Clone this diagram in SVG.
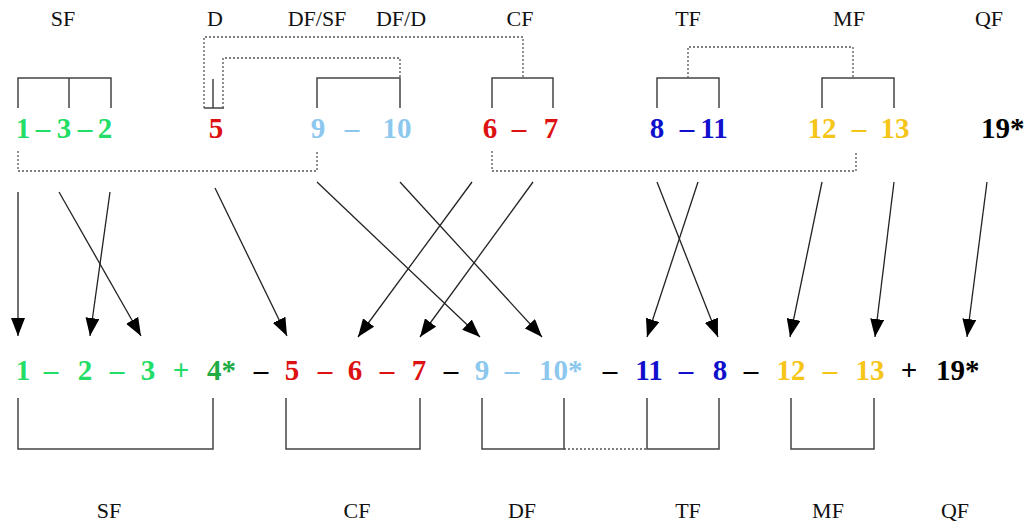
<svg xmlns="http://www.w3.org/2000/svg" width="1026" height="523" viewBox="0 0 1026 523">
<defs>
<style>
.lbl{font-family:"Liberation Serif","Times New Roman",serif;font-size:22px;fill:#111;text-anchor:middle}
.n{font-family:"Liberation Serif","Times New Roman",serif;font-size:29px;font-weight:bold;text-anchor:middle}
.s{text-anchor:start}
.g{fill:#22DD66}.g2{fill:#22AA44}.r{fill:#DD1111}.lb{fill:#8CC8EE}.b{fill:#1010CC}.y{fill:#F5C518}.k{fill:#000}
.br{fill:none;stroke:#444;stroke-width:1.5}
.dot{fill:none;stroke:#555;stroke-width:1.3;stroke-dasharray:2,2}
.arr{stroke:#222;stroke-width:1.3;fill:none;marker-end:url(#ah)}
</style>
<marker id="ah" markerUnits="userSpaceOnUse" markerWidth="18" markerHeight="14" refX="18" refY="7" orient="auto">
<path d="M0,0 L18,7 L0,14 z" fill="#000"/>
</marker>
</defs>
<rect width="1026" height="523" fill="#fff"/>

<g id="top-labels">
<text class="lbl" x="63" y="26">SF</text>
<text class="lbl" x="215" y="26">D</text>
<text class="lbl" x="317" y="26">DF/SF</text>
<text class="lbl" x="401" y="26">DF/D</text>
<text class="lbl" x="520" y="26">CF</text>
<text class="lbl" x="688" y="26">TF</text>
<text class="lbl" x="849" y="26">MF</text>
<text class="lbl" x="989" y="26">QF</text>
</g>

<g id="top-sf">
<path class="br" d="M18,108 V78 H111 V108 M69,78 V108"/>
<text class="n g" x="23" y="138">1</text>
<text class="n g" x="43" y="138">–</text>
<text class="n g" x="64" y="138">3</text>
<text class="n g" x="85" y="138">–</text>
<text class="n g" x="105" y="138">2</text>
</g>
<g id="top-d">
<path class="br" d="M213,79 V108 M204,108 H224"/>
<text class="n r" x="216" y="138">5</text>
</g>
<g id="top-df">
<path class="br" d="M317,108 V78 H400 V108"/>
<text class="n lb" x="318" y="138">9</text>
<text class="n lb" x="352" y="138">–</text>
<text class="n lb" x="397" y="138">10</text>
</g>
<g id="top-cf">
<path class="br" d="M492,108 V78 H553 V108"/>
<text class="n r" x="490" y="138">6</text>
<text class="n r" x="519" y="138">–</text>
<text class="n r" x="551" y="138">7</text>
</g>
<g id="top-tf">
<path class="br" d="M657,108 V78 H719 V108"/>
<text class="n b" x="657" y="138">8</text>
<text class="n b" x="687" y="138">–</text>
<text class="n b" x="714" y="138">11</text>
</g>
<g id="top-mf">
<path class="br" d="M822,108 V78 H894 V108"/>
<text class="n y" x="822" y="138">12</text>
<text class="n y" x="859" y="138">–</text>
<text class="n y" x="895" y="138">13</text>
</g>
<g id="top-qf">
<text class="n k s" x="981" y="138">19*</text>
</g>

<g id="dotted-links">
<path class="dot" d="M204,108 V37 H523 V78"/>
<path class="dot" d="M223,108 V58 H400 V78"/>
<path class="dot" d="M688,78 V47 H853 V78"/>
<path class="dot" d="M18,151 V171 H317 V151"/>
<path class="dot" d="M492,151 V171 H856 V151"/>
<path class="dot" d="M564,449 H647"/>
</g>

<g id="connectors">
<line class="arr" x1="18" y1="192" x2="18" y2="336"/>
<line class="arr" x1="59" y1="192" x2="141" y2="336"/>
<line class="arr" x1="110" y1="192" x2="90" y2="336"/>
<line class="arr" x1="215" y1="188" x2="287" y2="336"/>
<line class="arr" x1="317" y1="182" x2="480" y2="337"/>
<line class="arr" x1="400" y1="182" x2="542" y2="337"/>
<line class="arr" x1="472" y1="182" x2="358" y2="337"/>
<line class="arr" x1="533" y1="182" x2="420" y2="337"/>
<line class="arr" x1="657" y1="182" x2="718" y2="337"/>
<line class="arr" x1="698" y1="182" x2="647" y2="337"/>
<line class="arr" x1="822" y1="182" x2="790" y2="337"/>
<line class="arr" x1="894" y1="182" x2="875" y2="337"/>
<line class="arr" x1="987" y1="182" x2="967" y2="337"/>
</g>

<g id="bottom-sf">
<text class="n g" x="23" y="380">1</text>
<text class="n g" x="51" y="380">–</text>
<text class="n g" x="85" y="380">2</text>
<text class="n g" x="117" y="380">–</text>
<text class="n g" x="148" y="380">3</text>
<text class="n g" x="181" y="380">+</text>
<text class="n g2 s" x="207" y="380">4*</text>
<path class="br" d="M18,398 V449 H213 V398"/>
</g>
<text class="n k" x="261" y="380">–</text>
<g id="bottom-cf">
<text class="n r" x="292" y="380">5</text>
<text class="n r" x="325" y="380">–</text>
<text class="n r" x="355" y="380">6</text>
<text class="n r" x="387" y="380">–</text>
<text class="n r" x="419" y="380">7</text>
<path class="br" d="M286,398 V449 H420 V398"/>
</g>
<text class="n k" x="451" y="380">–</text>
<g id="bottom-df">
<text class="n lb" x="482" y="380">9</text>
<text class="n lb" x="512" y="380">–</text>
<text class="n lb s" x="539" y="380">10*</text>
<path class="br" d="M482,398 V449 H564 V398"/>
</g>
<text class="n k" x="610" y="380">–</text>
<g id="bottom-tf">
<text class="n b" x="649" y="380">11</text>
<text class="n b" x="686" y="380">–</text>
<text class="n b" x="720" y="380">8</text>
<path class="br" d="M647,398 V449 H719 V398"/>
</g>
<text class="n k" x="751" y="380">–</text>
<g id="bottom-mf">
<text class="n y" x="791" y="380">12</text>
<text class="n y" x="830" y="380">–</text>
<text class="n y" x="870" y="380">13</text>
<path class="br" d="M791,398 V449 H874 V398"/>
</g>
<text class="n k" x="909" y="380">+</text>
<g id="bottom-qf">
<text class="n k s" x="936" y="380">19*</text>
</g>

<g id="bottom-labels">
<text class="lbl" x="109" y="518">SF</text>
<text class="lbl" x="357" y="518">CF</text>
<text class="lbl" x="522" y="518">DF</text>
<text class="lbl" x="688" y="518">TF</text>
<text class="lbl" x="828" y="518">MF</text>
<text class="lbl" x="955" y="518">QF</text>
</g>
</svg>
